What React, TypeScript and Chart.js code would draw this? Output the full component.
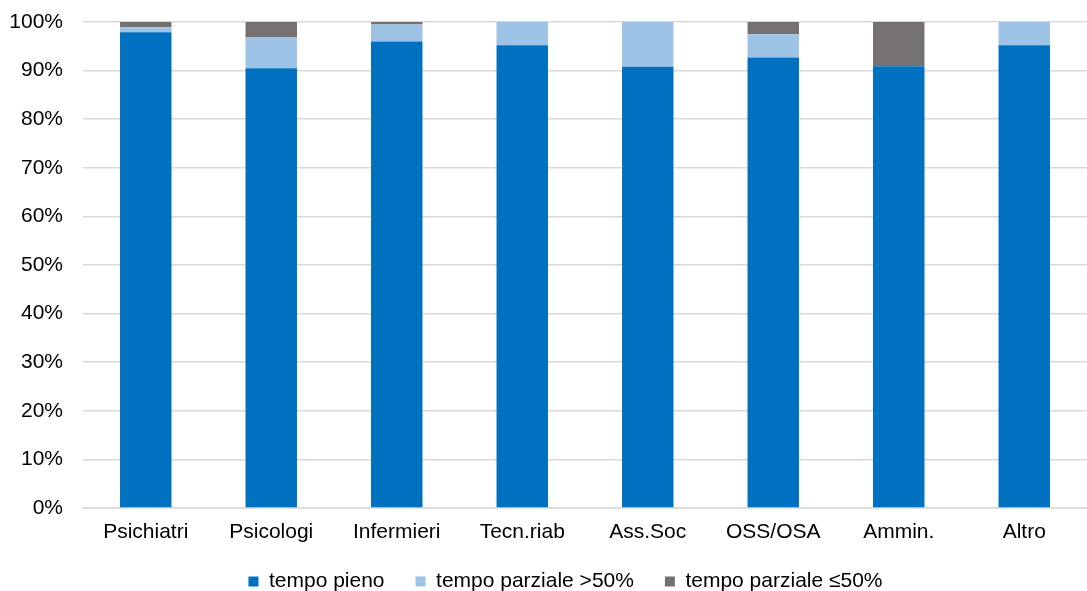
import React, { useEffect, useRef } from "react";
import { Chart, registerables } from "chart.js";

Chart.register(...registerables);

// Categorie professionali
const categories = [
  "Psichiatri",
  "Psicologi",
  "Infermieri",
  "Tecn.riab",
  "Ass.Soc",
  "OSS/OSA",
  "Ammin.",
  "Altro",
];

// Quote percentuali per tipo di contratto
const tempoPieno = [97.9, 90.5, 96.0, 95.2, 90.8, 92.7, 90.9, 95.2];
const parzialeOltre50 = [1.0, 6.3, 3.5, 4.8, 9.2, 4.8, 0, 4.8];
const parzialeFino50 = [1.1, 3.2, 0.5, 0, 0, 2.5, 9.1, 0];

const seriesLabels = ["tempo pieno", "tempo parziale >50%", "tempo parziale ≤50%"];
const seriesColors = ["#0070C0", "#9DC3E6", "#767171"];

const FONT = "'Liberation Sans', Arial, sans-serif";
const FONT_SIZE = 21;

// Sposta la legenda verso destra rispetto al centro del canvas
const legendOffset = {
  id: "legendOffset",
  afterLayout(chart: any) {
    const lg = chart.legend;
    if (!lg) return;
    lg.left += 22;
    lg.right += 22;
  },
};

export default function App() {
  const canvasRef = useRef<HTMLCanvasElement | null>(null);

  useEffect(() => {
    document.body.style.margin = "0";
    const canvas = canvasRef.current;
    if (!canvas) return;

    const chart = new Chart(canvas, {
      type: "bar",
      data: {
        labels: categories,
        datasets: [tempoPieno, parzialeOltre50, parzialeFino50].map((data, i) => ({
          label: seriesLabels[i],
          data,
          backgroundColor: seriesColors[i],
          borderWidth: 0,
          categoryPercentage: 1,
          barPercentage: 0.41,
        })),
      },
      options: {
        responsive: false,
        animation: false,
        layout: { padding: { top: 22, left: 0, right: 0, bottom: -11 } },
        scales: {
          x: {
            stacked: true,
            grid: { display: false, drawTicks: false },
            border: { color: "#d9d9d9", width: 1.5 },
            ticks: {
              color: "#000",
              padding: 12,
              font: { family: FONT, size: FONT_SIZE },
            },
            afterFit: (scale: any) => {
              scale.height = 32;
              // le etichette possono superare l'altezza riservata all'asse
              scale._computeLabelArea = () => undefined;
            },
          },
          y: {
            stacked: true,
            min: 0,
            max: 100,
            grid: { color: "#d9d9d9", lineWidth: 1.5, drawTicks: false },
            border: { display: false },
            ticks: {
              stepSize: 10,
              color: "#000",
              padding: 20,
              font: { family: FONT, size: FONT_SIZE },
              callback: (v: any) => v + "%",
            },
            afterFit: (scale: any) => {
              scale.width = 83;
              scale.paddingTop = 0;
              scale.paddingBottom = 0;
            },
          },
        },
        plugins: {
          legend: {
            position: "bottom",
            labels: {
              boxWidth: 10,
              boxHeight: 10,
              padding: 31,
              color: "#000",
              font: { family: FONT, size: FONT_SIZE },
            },
          },
          tooltip: { enabled: false },
        },
      },
      plugins: [legendOffset],
    });

    return () => chart.destroy();
  }, []);

  return (
    <div style={{ width: 1087, height: 591, background: "#fff" }}>
      <canvas ref={canvasRef} width={1087} height={591} />
    </div>
  );
}
